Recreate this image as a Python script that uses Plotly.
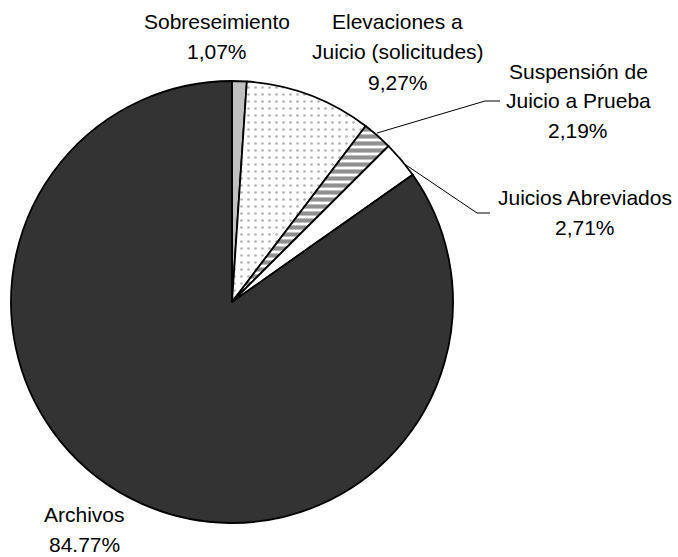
import plotly.graph_objects as go

categories = ["Sobreseimiento", "Elevaciones a Juicio (solicitudes)", "Suspensión de Juicio a Prueba",
              "Juicios Abreviados", "Archivos"]
values = [1.07, 9.27, 2.19, 2.71, 84.77]
label_lines = [["Sobreseimiento"], ["Elevaciones a", "Juicio (solicitudes)"],
               ["Suspensión de", "Juicio a Prueba"], ["Juicios Abreviados"], ["Archivos"]]
pct_labels = ["1,07%", "9,27%", "2,19%", "2,71%", "84.77%"]

W, H = 678, 557
cx, cy, r = 232, 302, 221

fig = go.Figure(go.Pie(
    labels=categories, values=values, sort=False, direction="clockwise", rotation=0,
    textinfo="none", hoverinfo="label+percent", showlegend=False,
    domain=dict(x=[(cx - r) / W, (cx + r) / W], y=[(H - cy - r) / H, (H - cy + r) / H]),
    marker=dict(
        colors=["#c0c0c0", "#ffffff", "#ffffff", "#ffffff", "#333333"],
        line=dict(color="#000000", width=1.8),
        pattern=dict(
            shape=["", ".", "-", "", ""],
            fgcolor=["#c0c0c0", "#666666", "#222222", "#ffffff", "#333333"],
            bgcolor=["#c0c0c0", "#ffffff", "#ffffff", "#ffffff", "#333333"],
            size=[8, 7, 7, 8, 8],
            solidity=[0.3, 0.12, 0.6, 0.3, 0.3],
            fillmode="overlay",
        ),
    ),
))

# label anchor (center x, first-line center y) in pixels
anchors = [(217, 22), (398, 22), (578, 71), (585, 197), (84, 514)]
spacing = 30
annotations = []
for lines, pct, (ax, ay) in zip(label_lines, pct_labels, anchors):
    for i, t in enumerate(lines + [pct]):
        annotations.append(dict(
            x=ax / W, y=1 - (ay + i * spacing) / H, xref="paper", yref="paper",
            text=t, showarrow=False, xanchor="center", yanchor="middle",
            font=dict(family="Liberation Sans, Arial", size=21, color="#000000"),
        ))

def path(pts):
    s = ""
    for k, (px, py) in enumerate(pts):
        s += ("M" if k == 0 else "L") + f"{px / W},{1 - py / H} "
    return s

shapes = [
    dict(type="path", xref="paper", yref="paper", path=path([(377, 133), (485, 101), (500, 101)]),
         line=dict(color="#000000", width=1)),
    dict(type="path", xref="paper", yref="paper", path=path([(403, 163), (477, 213), (490, 213)]),
         line=dict(color="#000000", width=1)),
]

fig.update_layout(
    width=W, height=H, margin=dict(l=0, r=0, t=0, b=0),
    paper_bgcolor="#ffffff", plot_bgcolor="#ffffff",
    annotations=annotations, shapes=shapes,
)

fig.write_html("out.html", config={"displayModeBar": False},
               post_script="document.body.style.margin='0';document.body.style.overflow='hidden';")
